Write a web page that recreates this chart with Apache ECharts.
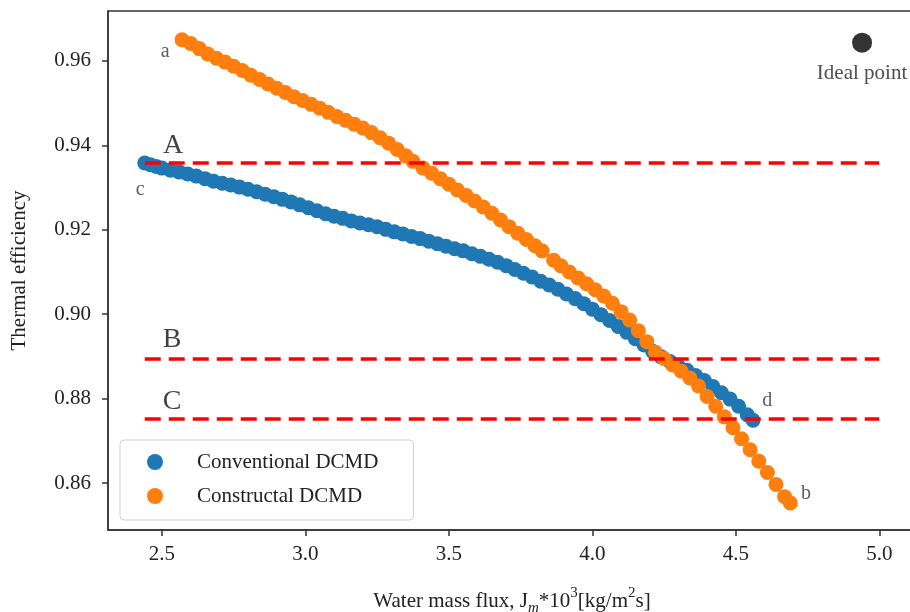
<!DOCTYPE html>
<html>
<head>
<meta charset="utf-8">
<script src="https://cdn.jsdelivr.net/npm/echarts@6/dist/echarts.min.js"></script>
<style>
html,body{margin:0;padding:0;background:#fff;}
#chart{width:910px;height:612px;}
</style>
</head>
<body>
<div id="chart"></div>
<script>
// ---- data ----
const convX = [2.44,2.46,2.48,2.50,2.53,2.56,2.59,2.62,2.65,2.68,2.71,2.74,2.77,2.80,2.83,2.86,2.89,2.92,2.95,2.98,3.01,3.04,3.07,3.10,3.13,3.16,3.19,3.22,3.25,3.28,3.31,3.34,3.37,3.40,3.43,3.46,3.49,3.52,3.55,3.58,3.61,3.64,3.67,3.70,3.73,3.76,3.79,3.82,3.85,3.88,3.91,3.94,3.97,4.00,4.03,4.06,4.09,4.12,4.15,4.18,4.21,4.24,4.27,4.30,4.33,4.36,4.39,4.42,4.45,4.48,4.51,4.54,4.56];
const convY = [0.9358,0.9354,0.9350,0.9346,0.9341,0.9337,0.9332,0.9327,0.9321,0.9315,0.9310,0.9306,0.9301,0.9296,0.9290,0.9284,0.9278,0.9272,0.9266,0.9259,0.9252,0.9245,0.9238,0.9232,0.9227,0.9221,0.9216,0.9212,0.9207,0.9201,0.9195,0.9190,0.9184,0.9179,0.9173,0.9167,0.9161,0.9155,0.9150,0.9143,0.9137,0.9130,0.9123,0.9115,0.9106,0.9097,0.9088,0.9078,0.9069,0.9059,0.9048,0.9037,0.9025,0.9012,0.8999,0.8985,0.8971,0.8957,0.8942,0.8927,0.8912,0.8899,0.8888,0.8877,0.8867,0.8855,0.8843,0.8829,0.8814,0.8799,0.8782,0.8762,0.8749];
const consX = [2.57,2.60,2.63,2.66,2.69,2.72,2.75,2.78,2.81,2.84,2.87,2.90,2.93,2.96,2.99,3.02,3.05,3.08,3.11,3.14,3.17,3.20,3.23,3.26,3.29,3.32,3.35,3.375,3.41,3.44,3.47,3.50,3.53,3.56,3.59,3.62,3.65,3.68,3.71,3.74,3.77,3.80,3.825,3.865,3.89,3.92,3.95,3.98,4.01,4.04,4.07,4.10,4.13,4.16,4.19,4.22,4.25,4.28,4.31,4.34,4.37,4.40,4.43,4.46,4.49,4.52,4.55,4.58,4.61,4.64,4.67,4.69];
const consY = [0.9650,0.9641,0.9629,0.9616,0.9606,0.9597,0.9587,0.9577,0.9566,0.9556,0.9545,0.9535,0.9525,0.9515,0.9506,0.9497,0.9488,0.9478,0.9468,0.9459,0.9450,0.9441,0.9430,0.9418,0.9405,0.9390,0.9375,0.9362,0.9346,0.9334,0.9321,0.9308,0.9294,0.9281,0.9268,0.9254,0.9239,0.9223,0.9207,0.9192,0.9177,0.9162,0.9150,0.9128,0.9115,0.9100,0.9086,0.9072,0.9058,0.9043,0.9026,0.9006,0.8986,0.8961,0.8935,0.8910,0.8895,0.8880,0.8865,0.8849,0.8830,0.8805,0.8782,0.8757,0.8731,0.8705,0.8679,0.8652,0.8625,0.8597,0.8568,0.8553];
const idealPoint = [4.94, 0.9643];
const refNames = ['A','B','C'];
const refLevels = [0.9358, 0.8894, 0.8752];
const refXRange = [2.44, 5.0];
const refLabelX = [2.539, 2.535, 2.535];
const refLabelY = [0.9399, 0.8939, 0.8792];
const endNames = ['a','b','c','d'];
const endX = [2.511, 4.745, 2.424, 4.610];
const endY = [0.9621, 0.8575, 0.9294, 0.8795];
const xTicks = [2.5,3.0,3.5,4.0,4.5,5.0];
const yTicks = [0.86,0.88,0.90,0.92,0.94,0.96];
const seriesNames = ['Conventional DCMD','Constructal DCMD'];

const FONT = '"Liberation Serif","DejaVu Serif",serif';
const TXT = '#222';

const zip = (xs, ys) => xs.map((x,i)=>[x, ys[i]]);

const series = [
  {name: seriesNames[0], type:'scatter', data: zip(convX, convY), symbolSize:15,
   itemStyle:{color:'#1f77b4', opacity:1}, z:2},
  {name: seriesNames[1], type:'scatter', data: zip(consX, consY), symbolSize:15,
   itemStyle:{color:'#ff7f0e', opacity:1}, z:3}
];
refLevels.forEach((lv,i)=>{
  series.push({name:'ref'+refNames[i], type:'line', symbol:'none', silent:true, z:5,
    data:[[refXRange[0], lv],[refXRange[1], lv]],
    lineStyle:{color:'#ff0000', width:3.5, type:[16,8]}});
});
series.push({name:'ideal', type:'scatter', symbolSize:20, z:5,
  itemStyle:{color:'#000'},
  data:[{value: idealPoint, name:'Ideal point'}],
  label:{show:true, position:'bottom', distance:10, formatter:'{b}', color:TXT, fontFamily:FONT, fontSize:21}});
series.push({name:'refLabels', type:'scatter', symbolSize:0, z:6, silent:true,
  data: refNames.map((n,i)=>({value:[refLabelX[i], refLabelY[i]], name:n})),
  label:{show:true, position:'inside', formatter:'{b}', color:'#111', fontFamily:FONT, fontSize:28}});
series.push({name:'endLabels', type:'scatter', symbolSize:0, z:6, silent:true,
  data: endNames.map((n,i)=>({value:[endX[i], endY[i]], name:n})),
  label:{show:true, position:'inside', formatter:'{b}', color:'#333', fontFamily:FONT, fontSize:20}});

const chart = echarts.init(document.getElementById('chart'), null, {renderer:'canvas'});
chart.setOption({
  animation:false,
  backgroundColor:'#fff',
  grid:{left:108, top:11, width:808, height:519, containLabel:false, outerBoundsMode:'none',
        show:true, borderColor:'#333', borderWidth:1.5, backgroundColor:'transparent'},
  legend:{
    data: seriesNames, orient:'vertical', left:120, top:440,
    icon:'circle', itemWidth:16, itemHeight:16, itemGap:12,
    padding:[11,35,13,27],
    backgroundColor:'rgba(255,255,255,0.85)', borderColor:'#d0d0d0', borderWidth:1, borderRadius:4,
    textStyle:{fontFamily:FONT, fontSize:21, color:TXT, lineHeight:22, padding:[0,0,0,29]}
  },
  xAxis:{
    type:'value', min:2.312, max:5.128,
    axisLine:{show:true, lineStyle:{color:'#333', width:1.5}},
    axisTick:{show:true, customValues:xTicks, length:6, lineStyle:{color:'#333', width:1.5}},
    axisLabel:{customValues:xTicks, formatter:v=>v.toFixed(1), margin:14, color:TXT, fontFamily:FONT, fontSize:21},
    splitLine:{show:false},
    name:'{t|Water mass flux, J}{sub|m}{t|*10}{sup|3}{t|[kg/m}{sup|2}{t|s]}',
    nameLocation:'middle', nameGap:56,
    nameTextStyle:{color:TXT, fontFamily:FONT, fontSize:21,
      rich:{
        t:{fontFamily:FONT, fontSize:21, color:TXT, lineHeight:30, verticalAlign:'middle'},
        sub:{fontFamily:FONT, fontSize:15, color:TXT, fontStyle:'italic', lineHeight:30, verticalAlign:'bottom'},
        sup:{fontFamily:FONT, fontSize:15, color:TXT, lineHeight:30, verticalAlign:'top'}
      }}
  },
  yAxis:{
    type:'value', min:0.8489, max:0.9718,
    axisLine:{show:true, lineStyle:{color:'#333', width:1.5}},
    axisTick:{show:true, customValues:yTicks, length:6, lineStyle:{color:'#333', width:1.5}},
    axisLabel:{customValues:yTicks, formatter:v=>v.toFixed(2), margin:17, color:TXT, fontFamily:FONT, fontSize:21},
    splitLine:{show:false},
    name:'Thermal efficiency', nameLocation:'middle', nameGap:78, nameRotate:90,
    nameTextStyle:{color:TXT, fontFamily:FONT, fontSize:21}
  },
  series: series
});
</script>
</body>
</html>
